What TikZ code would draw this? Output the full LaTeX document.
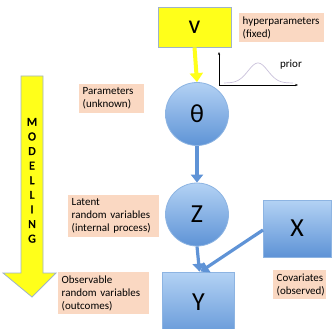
\documentclass[tikz,border=0pt]{standalone}
\usepackage{fontspec}
\setmainfont{Carlito}
\newfontfamily\modfont{Carlito}[FakeBold=2.5]
\usetikzlibrary{arrows.meta}
\definecolor{peach}{HTML}{FAD8C2}
\definecolor{ylw}{HTML}{FFFF1A}
\definecolor{ybord}{HTML}{9FB3C8}
\definecolor{blight}{HTML}{B3D2F4}
\definecolor{bdark}{HTML}{5E93D6}
\definecolor{bline}{HTML}{5F93D6}
\definecolor{bbord}{HTML}{8DB4E2}
\definecolor{priorc}{HTML}{C9C0DA}
\tikzset{
  lbl/.style={fill=peach, inner sep=3.5pt, align=left, anchor=north west,
    font=\fontsize{11}{13}\selectfont},
  bigtxt/.style={font=\fontsize{26}{26}\selectfont},
  blueshape/.style={top color=blight, bottom color=bdark, draw=bbord, line width=0.8pt,
    bigtxt, text=black},
  bluearrow/.style={draw=bline, line width=3.2pt, -{Triangle[length=8pt,width=12pt]}},
}
\begin{document}
\begin{tikzpicture}[x=1pt,y=-1pt]
\useasboundingbox (0,0) rectangle (332,329);
% MODELLING arrow
\draw[fill=ylw, draw=ybord, line width=0.8pt]
  (21,76) -- (43,76) -- (43,273) -- (56,273) -- (32,297) -- (3,273) -- (21,273) -- cycle;
\node[font=\modfont\fontsize{12}{14.6}\selectfont, align=center, anchor=north] (modl) at (32,114.5)
  {M\\O\\D\\E\\L\\L\\I\\N\\G};
% v box
\node[fill=ylw, draw=ybord, line width=0.8pt, minimum width=73pt, minimum height=40pt,
  bigtxt] (v) at (194.5,27) {v};
% theta
\node[blueshape, circle, minimum size=63pt, inner sep=0pt] (theta) at (197,114) {θ};
% Z
\node[blueshape, circle, minimum size=63pt, inner sep=0pt] (Z) at (197,214.5) {Z};
% X
\node[blueshape, rectangle, minimum width=68pt, minimum height=57pt, inner sep=0pt] (X) at (297,228.5) {X};
% Y
\node[blueshape, rectangle, minimum width=72pt, minimum height=70pt, inner sep=0pt] (Y) at (198.5,307) {};
\node[bigtxt] (Yt) at (198.5,302) {Y};
% arrows
\draw[draw=ylw, line width=4pt, -{Triangle[length=9pt,width=13pt]}] (v.south) -- (theta.north);
\draw[bluearrow] (theta.south) -- (Z.north);
\draw[bluearrow] (Z.south) -- ([xshift=1pt]Y.north);
\coordinate (xs) at (263,230);
\draw[bluearrow] (xs) -- ([xshift=2pt]Y.north);
% labels
\node[lbl, text width=58pt] (par) at (79,84) {Parameters\\(unknown)};
\node[lbl, text width=78pt] (hyp) at (239,13) {hyperparameters\\(fixed)};
\node[lbl, text width=84pt] (lat) at (68,195) {Latent\\random variables\\(internal process)};
\node[lbl, text width=84pt] (obs) at (58,272) {Observable\\random variables\\(outcomes)};
\node[lbl, text width=46pt] (cov) at (273,270) {Covariates\\(observed)};
% prior plot
\coordinate (o) at (219,85);
\draw[line width=0.6pt, -{Stealth[length=3pt]}] (o) -- (219,52);
\draw[line width=0.6pt, -{Stealth[length=3pt]}] (o) -- (298,85);
\draw[priorc, line width=0.7pt, domain=224:293, samples=60, smooth]
  plot (\x, {83 - 20*exp(-((\x-258)/14)^2)});
\node[font=\fontsize{11}{13}\selectfont] (prior) at (291,65) {prior};
\end{tikzpicture}
\end{document}
